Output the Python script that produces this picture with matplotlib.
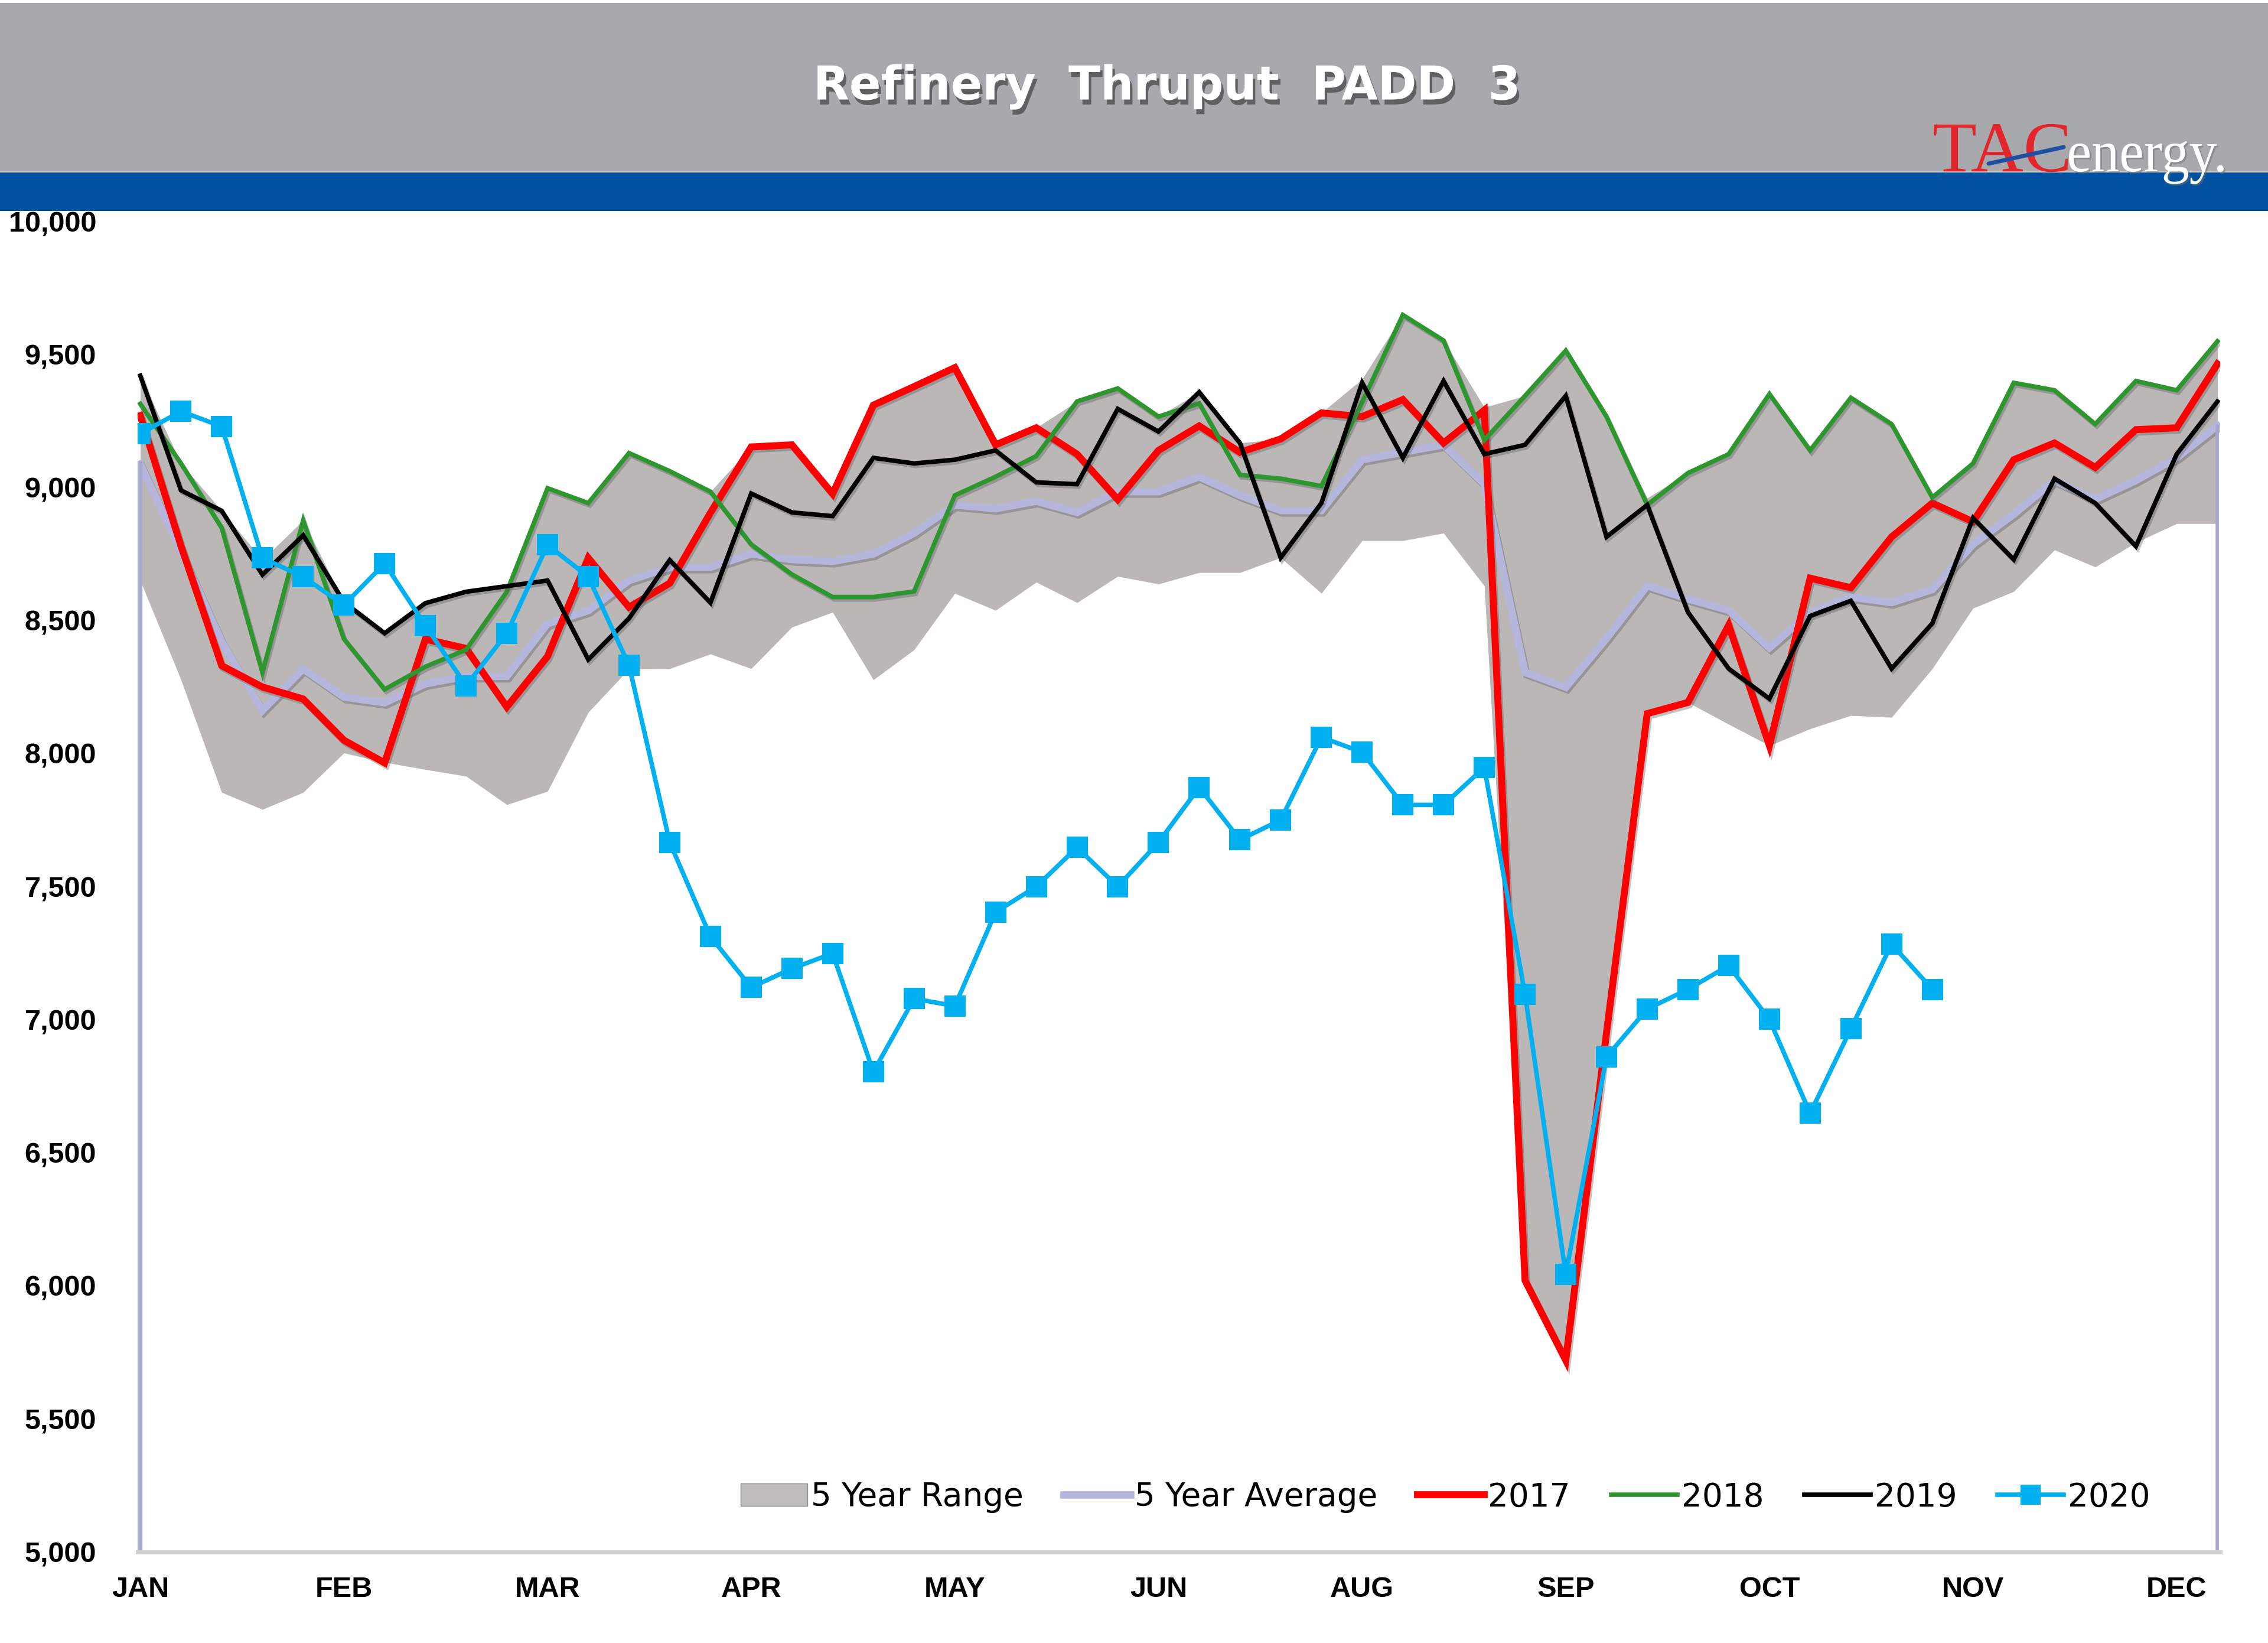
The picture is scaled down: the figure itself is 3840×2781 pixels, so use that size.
import matplotlib
matplotlib.use('Agg')
import matplotlib.pyplot as plt
import matplotlib.patheffects as pe
from matplotlib.patches import Rectangle, Patch, PathPatch
from matplotlib.lines import Line2D
from matplotlib.textpath import TextPath
from matplotlib.font_manager import FontProperties
from matplotlib.transforms import Affine2D
from matplotlib.ticker import FuncFormatter, FixedLocator
import numpy as np

# ---------------- data (weekly, 52 weeks) ----------------
month_labels = ['JAN', 'FEB', 'MAR', 'APR', 'MAY', 'JUN', 'AUG', 'SEP', 'OCT', 'NOV', 'DEC']
month_label_weeks = [0, 5, 10, 15, 20, 25, 30, 35, 40, 45, 50]

y2017 = [9270, 8780, 8330, 8250, 8205, 8050, 7965, 8430, 8395, 8175,
         8365, 8735, 8550, 8640, 8905, 9152, 9160, 8976, 9309, 9379,
         9450, 9160, 9224, 9125, 8955, 9139, 9231, 9132, 9182, 9280,
         9266, 9330, 9167, 9290, 6020, 5720, 6950, 8150, 8192, 8482,
         8030, 8659, 8623, 8814, 8941, 8871, 9104, 9167, 9075, 9217,
         9224, 9464]

y2018 = [9314, 9090, 8848, 8304, 8876, 8431, 8241, 8326, 8390, 8608,
         8997, 8941, 9129, 9061, 8984, 8786, 8673, 8588, 8588, 8609,
         8970, 9040, 9118, 9323, 9372, 9266, 9316, 9047, 9033, 9005,
         9320, 9648, 9552, 9178, 9344, 9514, 9266, 8934, 9054, 9125,
         9351, 9139, 9337, 9238, 8962, 9090, 9393, 9365, 9238, 9400,
         9365, 9549]

y2019 = [9420, 8989, 8912, 8672, 8820, 8569, 8452, 8565, 8608, 8629,
         8650, 8353, 8508, 8727, 8567, 8977, 8906, 8892, 9111, 9090,
         9104, 9139, 9019, 9012, 9295, 9210, 9358, 9167, 8736, 8941,
         9393, 9111, 9400, 9125, 9160, 9344, 8814, 8934, 8531, 8319,
         8206, 8517, 8574, 8319, 8489, 8885, 8729, 9033, 8941, 8779,
         9125, 9323]

y2020 = [9202, 9286, 9229, 8735, 8664, 8558, 8714, 8481, 8255, 8452,
         8784, 8664, 8332, 7666, 7312, 7121, 7192, 7249, 6804, 7079,
         7051, 7404, 7500, 7647, 7500, 7666, 7873, 7676, 7750, 8061,
         8005, 7807, 7807, 7948, 7095, 6043, 6860, 7040, 7114, 7203,
         7001, 6648, 6966, 7284, 7114]

avg5 = [9088, 8760, 8420, 8162, 8318, 8212, 8191, 8262, 8290, 8290,
        8488, 8537, 8650, 8700, 8700, 8750, 8729, 8722, 8750, 8828,
        8934, 8920, 8948, 8906, 8984, 8984, 9040, 8970, 8913, 8913,
        9104, 9132, 9160, 9012, 8305, 8249, 8432, 8630, 8581, 8538,
        8397, 8531, 8588, 8567, 8616, 8786, 8899, 9026, 8955, 9026,
        9111, 9231]

range_low = [8650, 8277, 7854, 7790, 7854, 8002, 7967, 7940, 7915, 7808,
             7858, 8155, 8318, 8319, 8374, 8319, 8475, 8531, 8277, 8390,
             8602, 8538, 8644, 8567, 8666, 8637, 8680, 8680, 8736, 8602,
             8800, 8800, 8828, 8630, 6020, 5720, 6950, 8150, 8192, 8110,
             8030, 8093, 8143, 8136, 8319, 8546, 8609, 8765, 8701, 8793,
             8864, 8864]

range_high = [9420, 9090, 8912, 8728, 8876, 8569, 8452, 8565, 8608, 8629,
              8997, 8941, 9129, 9061, 8984, 9152, 9160, 8976, 9309, 9379,
              9450, 9160, 9224, 9323, 9372, 9266, 9358, 9167, 9182, 9280,
              9407, 9648, 9552, 9301, 9344, 9514, 9266, 8960, 9054, 9125,
              9351, 9139, 9337, 9238, 8962, 9090, 9393, 9365, 9238, 9400,
              9365, 9549]

# ---------------- figure ----------------
W, H = 3840, 2781
fig = plt.figure(figsize=(W / 100, H / 100), dpi=100)
fig.patch.set_facecolor('white')

# header bands
fig.add_artist(Rectangle((0, 1 - 290 / H), 1, (290 - 5) / H, transform=fig.transFigure,
                         facecolor='#A7A9AC', edgecolor='none', zorder=0))
fig.add_artist(Rectangle((0, 1 - 292 / H), 1, 3 / H, transform=fig.transFigure,
                         facecolor='#C8C2BE', edgecolor='none', zorder=0))
fig.add_artist(Rectangle((0, 1 - 357 / H), 1, (357 - 292) / H, transform=fig.transFigure,
                         facecolor='#0052A0', edgecolor='none', zorder=0))

fig.text(1975 / W, 1 - 147 / H, 'Refinery  Thruput  PADD  3', color='white',
         fontsize=57, fontweight='bold', family='DejaVu Sans',
         ha='center', va='center',
         path_effects=[pe.withSimplePatchShadow(offset=(3, -6), shadow_rgbFace='#303030', alpha=0.6)])


# logo drawn from text paths (condensed serif)
def logo_text(s, size, left_px, base_px, width_px, color, effects=None):
    tp = TextPath((0, 0), s, size=size, prop=FontProperties(family='Liberation Serif'))
    ext = tp.get_extents()
    sx = width_px / ext.width
    tr = (Affine2D().translate(-ext.x0, 0).scale(sx, 1.0)
          .translate(left_px, H - base_px).scale(1 / W, 1 / H) + fig.transFigure)
    p = PathPatch(tp, transform=tr, facecolor=color, edgecolor='none', zorder=5)
    if effects:
        p.set_path_effects(effects)
    fig.add_artist(p)


logo_text('TAC', 121, 3274, 290, 227, '#E3262C')
logo_text('energy.', 100, 3503, 290, 262, 'white',
          [pe.withSimplePatchShadow(offset=(2, -2), shadow_rgbFace='#707070', alpha=0.5)])
fig.add_artist(Line2D([3367 / W, 3494 / W], [1 - 277 / H, 1 - 249 / H], transform=fig.transFigure,
                      color='#1F4FA0', lw=5, solid_capstyle='round', zorder=6))

# axes
ax = fig.add_axes([95 / 1568, 1 - 1073 / 1136, (1535 - 95) / 1568, (1073 - 153) / 1136])
x = np.arange(len(y2017))
x20 = np.arange(len(y2020))

shadow = [pe.SimpleLineShadow(offset=(2, -3), shadow_color='#555555', alpha=0.35), pe.Normal()]

ax.fill_between(x, range_low, range_high, color='#BAB7B6', lw=0, zorder=1)
ax.plot(x, avg5, color='#B6B6DC', lw=9, zorder=2, solid_joinstyle='miter', path_effects=shadow)
ax.plot([0, 0], [5000, avg5[0]], color='#A8A8CC', lw=6, zorder=2)
ax.plot([x[-1], x[-1]], [5000, avg5[-1]], color='#A8A8CC', lw=4, zorder=2)
ax.plot(x, y2017, color='#FF0000', lw=8.5, zorder=3, solid_joinstyle='miter', path_effects=shadow)
ax.plot(x, y2018, color='#2E962E', lw=5.5, zorder=4, solid_joinstyle='miter', path_effects=shadow)
ax.plot(x, y2019, color='#000000', lw=5.5, zorder=5, solid_joinstyle='miter', path_effects=shadow)
ax.plot(x20, y2020, color='#00B0F0', lw=5.5, marker='s', markersize=26, markeredgewidth=0,
        zorder=6)

ax.set_xlim(-0.07, 51.07)
ax.set_ylim(5000, 10000)
ax.yaxis.set_major_locator(FixedLocator(np.arange(5000, 10001, 500)))
ax.yaxis.set_major_formatter(FuncFormatter(lambda v, p: f'{int(v):,}'))
ax.set_xticks(month_label_weeks)
ax.set_xticklabels(month_labels)

for s in ['top', 'right', 'left']:
    ax.spines[s].set_visible(False)
ax.spines['bottom'].set_color('#CFCFCF')
ax.spines['bottom'].set_linewidth(5)

ax.tick_params(axis='y', length=0, pad=50, labelsize=35)
ax.tick_params(axis='x', length=0, pad=30, labelsize=35)
for lab in ax.get_yticklabels():
    lab.set_family('Liberation Sans')
    lab.set_fontweight('bold')
for lab in ax.get_xticklabels():
    lab.set_family('Liberation Sans')
    lab.set_fontweight('bold')

handles = [
    Patch(facecolor='#BDBBBB', edgecolor='#8A8A8A', label='5 Year Range'),
    Line2D([], [], color='#B6B6DC', lw=9, label='5 Year Average'),
    Line2D([], [], color='#FF0000', lw=8.5, label='2017'),
    Line2D([], [], color='#2E962E', lw=5.5, label='2018'),
    Line2D([], [], color='#000000', lw=5.5, label='2019'),
    Line2D([], [], color='#00B0F0', lw=5.5, marker='s', markersize=24, markeredgewidth=0, label='2020'),
]
leg = ax.legend(handles=handles, loc='center', bbox_to_anchor=(0.628, 0.041), ncol=6,
                frameon=False, prop={'family': 'DejaVu Sans', 'size': 39.5},
                handlelength=2.05, handletextpad=0.12, columnspacing=1.25, borderaxespad=0)

fig.savefig('out.png', dpi=100, facecolor='white')
